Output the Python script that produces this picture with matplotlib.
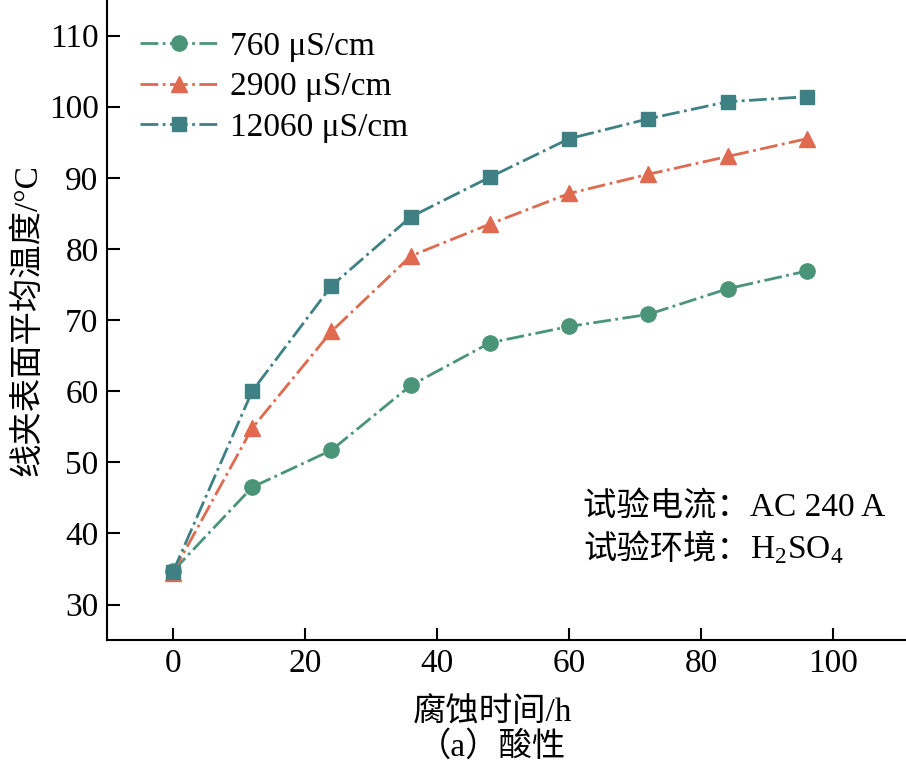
import matplotlib
matplotlib.use("Agg")
from matplotlib import pyplot as plt

# corrosion time (h)
hours = [0, 12, 24, 36, 48, 60, 72, 84, 96]
# mean surface temperature (degC)
temp_760 = [34.7, 46.5, 51.7, 60.8, 66.8, 69.1, 70.8, 74.4, 76.9]
temp_2900 = [34.5, 54.8, 68.4, 79.0, 83.5, 87.8, 90.5, 93.0, 95.5]
temp_12060 = [34.6, 60.0, 74.8, 84.5, 90.1, 95.5, 98.3, 100.7, 101.4]
labels = ["760 μS/cm", "2900 μS/cm", "12060 μS/cm"]
yticks = [30, 40, 50, 60, 70, 80, 90, 100, 110]
xticks = [0, 20, 40, 60, 80, 100]

plt.rcParams['font.family'] = ['Liberation Serif', 'Noto Sans CJK SC']
plt.rcParams['mathtext.fontset'] = 'custom'
plt.rcParams['mathtext.rm'] = 'Liberation Serif'

fs = 24

fig = plt.figure(figsize=(9.06, 7.74), dpi=100)
ax = fig.add_axes([0.118, 0.173, 0.882, 0.827])

ax.plot(hours, temp_760, color='#4a9479', linestyle='-.', linewidth=2,
        marker='o', markersize=11, label=labels[0])
ax.plot(hours, temp_2900, color='#e06a50', linestyle='-.', linewidth=2,
        marker='^', markersize=11, label=labels[1])
ax.plot(hours, temp_12060, color='#3e8083', linestyle='-.', linewidth=2,
        marker='s', markersize=10, label=labels[2])

ax.set_xlim(-10, 111)
ax.set_ylim(25, 115)
ax.set_xticks(xticks)
ax.set_yticks(yticks)
ax.tick_params(direction='in', length=9, width=1.5, labelsize=fs, pad=6)
for s in ['top', 'right']:
    ax.spines[s].set_visible(False)
for s in ['left', 'bottom']:
    ax.spines[s].set_linewidth(1.5)

ax.set_ylabel("线夹表面平均温度/°C", fontsize=fs, labelpad=4)

ax.legend(loc='upper left', frameon=False, fontsize=fs, handlelength=2.3,
          handletextpad=0.4, labelspacing=0.3, borderaxespad=0.0,
          bbox_to_anchor=(0.025, 0.972))

ax.text(0.596, 0.206, "试验电流：AC 240 A", transform=ax.transAxes,
        fontsize=fs, va='center')
t2 = ax.text(0.596, 0.14, "试验环境：", transform=ax.transAxes,
             fontsize=fs, va='center')
ax.annotate(r"H$_2$SO$_4$", xy=(1, 0.5), xycoords=t2, fontsize=fs,
            va='center', ha='left', xytext=(0, 0), textcoords='offset points')

fig.text(0.543, 0.08, "腐蚀时间/h", fontsize=fs, ha='center', va='center')
fig.text(0.543, 0.035, "（a）酸性", fontsize=fs, ha='center', va='center')

fig.savefig("out.png", dpi=100)
